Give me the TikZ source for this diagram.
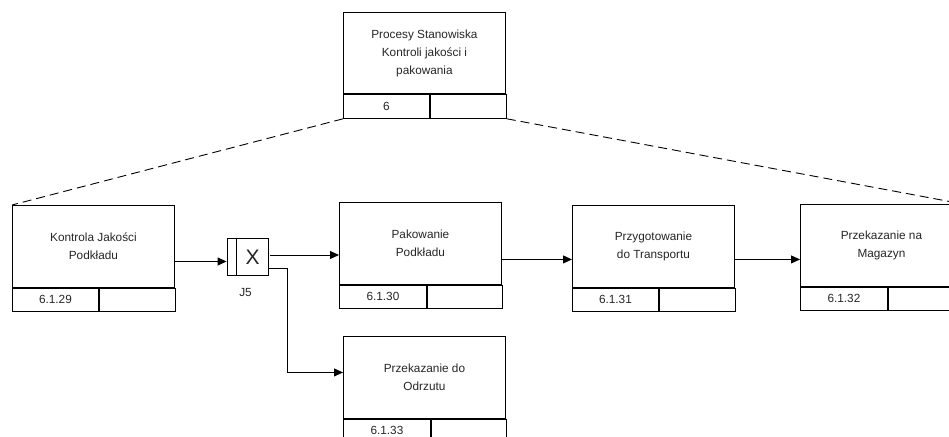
\documentclass[tikz,border=0pt]{standalone}
\usepackage{fontspec}
\setmainfont{Liberation Sans}
\usetikzlibrary{calc}
\usetikzlibrary{arrows.meta}

\tikzset{
  box/.style={draw, line width=0.9pt, minimum width=162pt, minimum height=82pt,
    inner sep=0pt, anchor=north west, align=center},
  idcell/.style={draw, line width=0.9pt, minimum height=23pt, inner sep=0pt, anchor=north west},
  flow/.style={line width=0.9pt, -{Triangle[length=9pt,width=8pt]}},
  link/.style={line width=0.9pt, dash pattern=on 9pt off 5pt}
}

\begin{document}
\begin{tikzpicture}[x=1pt, y=-1pt, font=\fontsize{11.8}{18}\selectfont, text=black!85]

\useasboundingbox (0,0) rectangle (949,436);
\clip (0,0) rectangle (949,436);

% parent process
\node[box, minimum height=81pt] (proc) at (343,12) {Procesy Stanowiska\\Kontroli jakości i\\pakowania};
\node[idcell, minimum width=86pt, minimum height=24pt] (proc-id) at (proc.south west) {6};
\node[idcell, minimum width=76pt, minimum height=24pt] (proc-x) at (proc-id.north east) {};

% sub-processes
\node[box] (kj) at (12,205) {Kontrola Jakości\\Podkładu};
\node[idcell, minimum width=86pt] (kj-id) at (kj.south west) {6.1.29};
\node[idcell, minimum width=76pt] (kj-x) at (kj-id.north east) {};

\node[box] (pak) at (339,202) {Pakowanie\\Podkładu};
\node[idcell, minimum width=87pt] (pak-id) at (pak.south west) {6.1.30};
\node[idcell, minimum width=75pt] (pak-x) at (pak-id.north east) {};

\node[box] (prz) at (572,205) {Przygotowanie\\do Transportu};
\node[idcell, minimum width=86pt] (prz-id) at (prz.south west) {6.1.31};
\node[idcell, minimum width=76pt] (prz-x) at (prz-id.north east) {};

\node[box] (mag) at (800,204) {Przekazanie na\\Magazyn};
\node[idcell, minimum width=87pt] (mag-id) at (mag.south west) {6.1.32};
\node[idcell, minimum width=75pt] (mag-x) at (mag-id.north east) {};

\node[box] (odr) at (343,336) {Przekazanie do\\Odrzutu};
\node[idcell, minimum width=87pt] (odr-id) at (odr.south west) {6.1.33};
\node[idcell, minimum width=75pt] (odr-x) at (odr-id.north east) {};

% junction
\node[draw, line width=0.9pt, minimum width=41pt, minimum height=37pt, inner sep=0pt] (j5) at (247.5,256.5) {};
\draw[line width=0.9pt] ([xshift=10pt]j5.north west) -- ([xshift=10pt]j5.south west);
\node at (j5.center) [xshift=5pt, yshift=-1pt, font=\fontsize{21}{21}\selectfont] {X};
\node (j5-lbl) at (j5.south) [anchor=north, xshift=-2pt, yshift=-9pt] {J5};

% decomposition lines
\draw[link] (proc-id.south west) -- (kj.north west);
\draw[link] (proc-x.south east) -- (mag.north east);

% flows
\coordinate (j5in) at ([yshift=-5pt]j5.west);
\coordinate (j5a) at ([yshift=1.5pt]j5.east);
\coordinate (j5b) at ([yshift=-12pt]j5.east);
\coordinate (pak-out) at ([yshift=-16pt]pak.east);
\coordinate (prz-out) at ([yshift=-13pt]prz.east);
\draw[flow] (kj.east |- j5in) -- (j5in);
\draw[flow, shorten <=2pt] (j5a) -- (j5a -| pak.west);
\draw[flow] (j5b) -- ++(19,0) |- ([yshift=5pt]odr.west);
\draw[flow] (pak-out) -- (pak-out -| prz.west);
\draw[flow] (prz-out) -- (prz-out -| mag.west);

\end{tikzpicture}
\end{document}
